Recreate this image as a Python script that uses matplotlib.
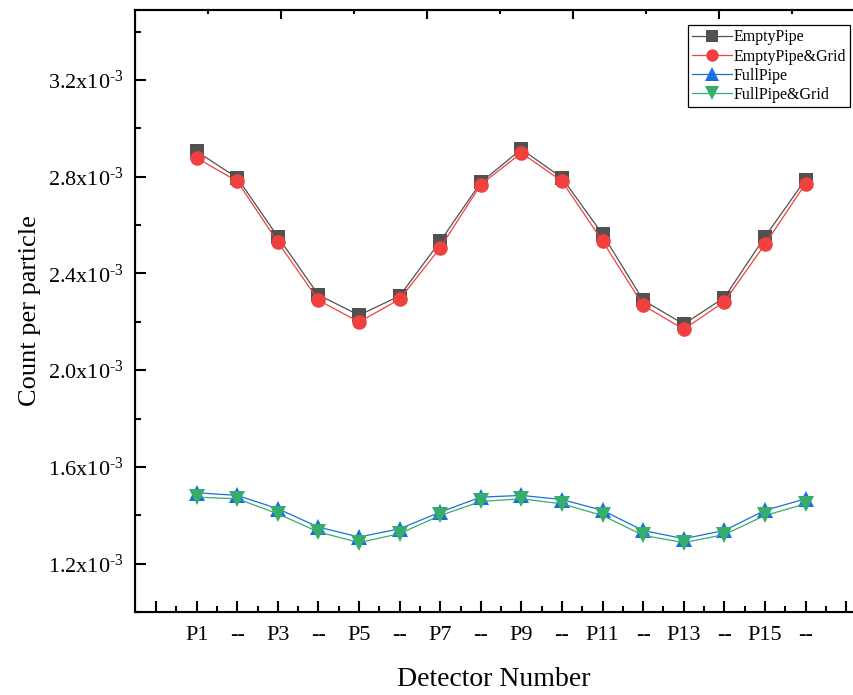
import numpy as np
import matplotlib
matplotlib.use('Agg')
import matplotlib.pyplot as plt
from matplotlib.ticker import FixedLocator, FuncFormatter, MultipleLocator

plt.rcParams['font.family'] = ['Liberation Serif', 'DejaVu Serif']
plt.rcParams['mathtext.fontset'] = 'custom'
plt.rcParams['mathtext.rm'] = 'Liberation Serif'
plt.rcParams['mathtext.it'] = 'Liberation Serif:italic'

# detector labels (every second one is shown as "--")
detectors = ['P1', '--', 'P3', '--', 'P5', '--', 'P7', '--',
             'P9', '--', 'P11', '--', 'P13', '--', 'P15', '--']

# count per particle for each configuration
empty_pipe = [2.904e-3, 2.795e-3, 2.551e-3, 2.311e-3, 2.227e-3, 2.307e-3, 2.533e-3, 2.776e-3,
              2.914e-3, 2.795e-3, 2.562e-3, 2.289e-3, 2.190e-3, 2.300e-3, 2.551e-3, 2.788e-3]
empty_pipe_grid = [2.877e-3, 2.781e-3, 2.529e-3, 2.289e-3, 2.199e-3, 2.293e-3, 2.506e-3, 2.767e-3,
                   2.898e-3, 2.781e-3, 2.533e-3, 2.268e-3, 2.169e-3, 2.283e-3, 2.520e-3, 2.771e-3]
full_pipe = [1.493e-3, 1.482e-3, 1.427e-3, 1.351e-3, 1.310e-3, 1.344e-3, 1.413e-3, 1.475e-3,
             1.482e-3, 1.465e-3, 1.420e-3, 1.337e-3, 1.303e-3, 1.337e-3, 1.420e-3, 1.468e-3]
full_pipe_grid = [1.475e-3, 1.468e-3, 1.406e-3, 1.331e-3, 1.287e-3, 1.324e-3, 1.399e-3, 1.457e-3,
                  1.468e-3, 1.447e-3, 1.399e-3, 1.317e-3, 1.287e-3, 1.320e-3, 1.399e-3, 1.447e-3]

x = np.arange(1, len(detectors) + 1)

fig = plt.figure(figsize=(8.54, 6.95), dpi=100)
ax = fig.add_axes([135/854, 83/695, 718/854, 602/695])

# series: label, data, colour, marker, marker size
series = [
    ('EmptyPipe', empty_pipe, '#515151', 's', 9.5),
    ('EmptyPipe&Grid', empty_pipe_grid, '#F14040', 'o', 10.5),
    ('FullPipe', full_pipe, '#1A6FDF', '^', 11.5),
    ('FullPipe&Grid', full_pipe_grid, '#37AD6B', 'v', 11.5),
]
for name, vals, col, mk, ms in series:
    ax.plot(x, vals, color=col, lw=0.9, marker=mk, markersize=ms,
            markeredgewidth=0, label=name)

# axes ranges and ticks
ax.set_xlim(-0.52, 17.17)
ax.set_ylim(1.0e-3, 3.489e-3)
ax.xaxis.set_major_locator(FixedLocator(np.arange(0, 18)))
ax.xaxis.set_minor_locator(FixedLocator(np.arange(0.5, 17.5, 1.0)))
ax.set_xticklabels([''] + detectors + [''])
ax.yaxis.set_major_locator(MultipleLocator(0.4e-3))
ax.yaxis.set_minor_locator(MultipleLocator(0.2e-3))

def yfmt(v, pos):
    # hyphen (not minus) in the exponent, as in the original
    return '%.1fx10$^{\\mathregular{\u20103}}$' % (v * 1e3)
ax.yaxis.set_major_formatter(FuncFormatter(yfmt))

ax.tick_params(which='major', direction='in', length=8, width=1.5, labelsize=16, pad=8)
ax.tick_params(which='minor', direction='in', length=4.5, width=1.5)
ax.tick_params(axis='x', which='major', pad=10)
ax.tick_params(top=False, right=False, which='both')
ax.spines['right'].set_visible(False)
for s in ['left', 'bottom', 'top']:
    ax.spines[s].set_linewidth(1.5)

# top axis (Origin keeps its own scale there, no labels)
ax2 = ax.twiny()
ax2.set_xlim(0, 718/73)
ax2.xaxis.set_major_locator(FixedLocator([2, 4, 6, 8]))
ax2.xaxis.set_minor_locator(FixedLocator([1, 3, 5, 7, 9]))
ax2.tick_params(which='major', direction='in', length=6.5, width=1.5, labeltop=False)
ax2.tick_params(which='minor', direction='in', length=3, width=1.5)
ax2.spines['right'].set_visible(False)
ax2.spines['top'].set_linewidth(1.5)

ax.set_xlabel('Detector Number', fontsize=20, labelpad=16)
ax.set_ylabel('Count per particle', fontsize=19, labelpad=5)

leg = ax.legend(loc='upper right', bbox_to_anchor=(0.998, 0.977), fontsize=11.5,
                frameon=True, fancybox=False, framealpha=1, edgecolor='black',
                handlelength=2.5, labelspacing=0.2, borderpad=0.25, handletextpad=0.1,
                borderaxespad=0.1, markerscale=0.85)
leg.get_frame().set_linewidth(0.9)

fig.savefig('out.png', dpi=100)
